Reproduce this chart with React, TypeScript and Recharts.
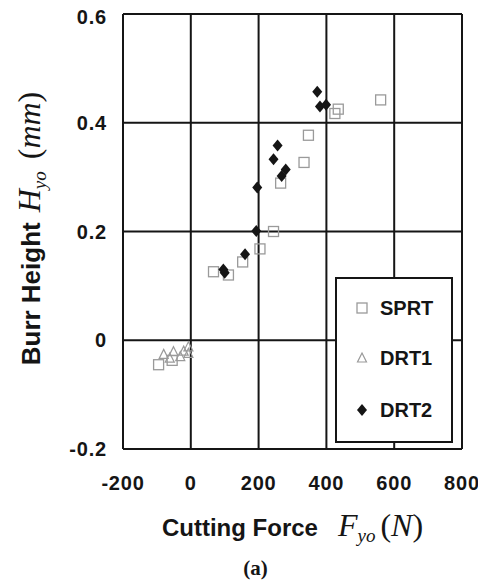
import { CartesianGrid, Legend, Scatter, ScatterChart, XAxis, YAxis, Label } from "recharts";

const forceTicks = [-200, 0, 200, 400, 600, 800];
const heightTicks = [-0.2, 0, 0.2, 0.4, 0.6];

const seriesNames = ["SPRT", "DRT1", "DRT2"];

const sprtForce = [-95, -55, 67, 111, 153, 204, 244, 265, 334, 347, 425, 435, 560];
const sprtHeight = [-0.045, -0.037, 0.126, 0.12, 0.144, 0.168, 0.2, 0.289, 0.327, 0.377, 0.417, 0.425, 0.442];

const drt1Force = [-80, -62, -51, -31, -21, -7, -7];
const drt1Height = [-0.026, -0.033, -0.021, -0.03, -0.02, -0.024, -0.012];

const drt2Force = [96, 100, 160, 193, 196, 244, 256, 268, 280, 373, 381, 399];
const drt2Height = [0.13, 0.124, 0.158, 0.201, 0.281, 0.333, 0.358, 0.302, 0.314, 0.457, 0.43, 0.433];

const toPoints = (xs: number[], ys: number[]) => xs.map((x, i) => ({ x, y: ys[i] }));

const sprtData = toPoints(sprtForce, sprtHeight);
const drt1Data = toPoints(drt1Force, drt1Height);
const drt2Data = toPoints(drt2Force, drt2Height);

const INK = "#151515";
const GRAY = "#9a9a9a";
const SANS = "Liberation Sans, Arial, sans-serif";
const SERIF = "Liberation Serif, Times New Roman, serif";

function Square({ cx, cy }: any) {
  return <rect x={cx - 5} y={cy - 5} width={10} height={10} fill="none" stroke={GRAY} strokeWidth={1.3} />;
}

function Triangle({ cx, cy }: any) {
  return (
    <path
      d={`M${cx},${cy - 5} L${cx + 4.5},${cy + 4} L${cx - 4.5},${cy + 4} Z`}
      fill="none"
      stroke={GRAY}
      strokeWidth={1.2}
    />
  );
}

function Diamond({ cx, cy }: any) {
  return <path d={`M${cx},${cy - 6} L${cx + 5},${cy} L${cx},${cy + 6} L${cx - 5},${cy} Z`} fill={INK} />;
}

const markers = [Square, Triangle, Diamond];

function XTick({ x, y, payload }: any) {
  return (
    <text x={x} y={y + 33} textAnchor="middle" fontFamily={SANS} fontWeight="bold" fontSize={20} fill={INK} letterSpacing={0.8}>
      {payload.value}
    </text>
  );
}

function YTick({ x, y, payload }: any) {
  return (
    <text x={x - 8} y={y + 7} textAnchor="end" fontFamily={SANS} fontWeight="bold" fontSize={20} fill={INK} letterSpacing={0.8}>
      {payload.value}
    </text>
  );
}

function XTitle({ viewBox }: any) {
  const cx = viewBox.x + viewBox.width / 2;
  const base = viewBox.y + 87;
  return (
    <g>
      <text x={cx} y={base} textAnchor="middle" fill={INK}>
        <tspan fontFamily={SANS} fontWeight="bold" fontSize={24}>Cutting Force</tspan>
        <tspan fontFamily={SERIF} fontStyle="italic" fontSize={32} dx={20}>F</tspan>
        <tspan fontFamily={SERIF} fontStyle="italic" fontSize={19} dy={6}>yo</tspan>
        <tspan fontFamily={SERIF} fontSize={32} dy={-6} dx={5}>(</tspan>
        <tspan fontFamily={SERIF} fontStyle="italic" fontSize={32}>N</tspan>
        <tspan fontFamily={SERIF} fontSize={32}>)</tspan>
      </text>
      <text x={cx - 37} y={viewBox.y + 126} textAnchor="middle" fontFamily={SERIF} fontWeight="bold" fontSize={21} fill={INK}>
        (a)
      </text>
    </g>
  );
}

function YTitle({ viewBox }: any) {
  const cy = viewBox.y + viewBox.height / 2 - 3;
  const bx = 32;
  return (
    <text x={bx} y={cy} textAnchor="middle" transform={`rotate(-90, ${bx}, ${cy})`} fill={INK}>
      <tspan fontFamily={SANS} fontWeight="bold" fontSize={26}>Burr Height</tspan>
      <tspan fontFamily={SERIF} fontStyle="italic" fontSize={32} dx={10}>H</tspan>
      <tspan fontFamily={SERIF} fontStyle="italic" fontSize={19} dy={6}>yo</tspan>
      <tspan fontFamily={SERIF} fontSize={32} dy={-6} dx={12}>(</tspan>
      <tspan fontFamily={SERIF} fontStyle="italic" fontSize={32}>mm</tspan>
      <tspan fontFamily={SERIF} fontSize={32}>)</tspan>
    </text>
  );
}

function LegendBox() {
  const rows = [31, 81, 133];
  return (
    <svg width={118} height={166} style={{ display: "block" }}>
      <rect x={1} y={1} width={116} height={164} fill="#fff" stroke={INK} strokeWidth={2} />
      {seriesNames.map((name, i) => {
        const Marker = markers[i];
        return (
          <g key={name}>
            <Marker cx={27} cy={rows[i]} />
            <text x={45} y={rows[i] + 7} fontFamily={SANS} fontWeight="bold" fontSize={20} fill={INK}>
              {name}
            </text>
          </g>
        );
      })}
    </svg>
  );
}

export default function App() {
  return (
    <ScatterChart width={470} height={573} margin={{ top: 6, right: 16, bottom: 92, left: 0 }}>
      <CartesianGrid stroke={INK} strokeWidth={2} />
      <XAxis
        type="number"
        dataKey="x"
        domain={[-200, 800]}
        ticks={forceTicks}
        tick={<XTick />}
        tickLine={false}
        axisLine={false}
        height={40}
      >
        <Label content={<XTitle />} />
      </XAxis>
      <YAxis
        type="number"
        dataKey="y"
        domain={[-0.2, 0.6]}
        ticks={heightTicks}
        tick={<YTick />}
        tickLine={false}
        axisLine={false}
        width={115}
      >
        <Label content={<YTitle />} />
      </YAxis>
      <Legend
        layout="horizontal"
        verticalAlign="middle"
        align="center"
        content={<LegendBox />}
        wrapperStyle={{ position: "absolute", left: 327, top: 269, width: 118, height: 166 }}
      />
      <Scatter name={seriesNames[0]} data={sprtData} shape={<Square />} isAnimationActive={false} />
      <Scatter name={seriesNames[1]} data={drt1Data} shape={<Triangle />} isAnimationActive={false} />
      <Scatter name={seriesNames[2]} data={drt2Data} shape={<Diamond />} isAnimationActive={false} />
    </ScatterChart>
  );
}
